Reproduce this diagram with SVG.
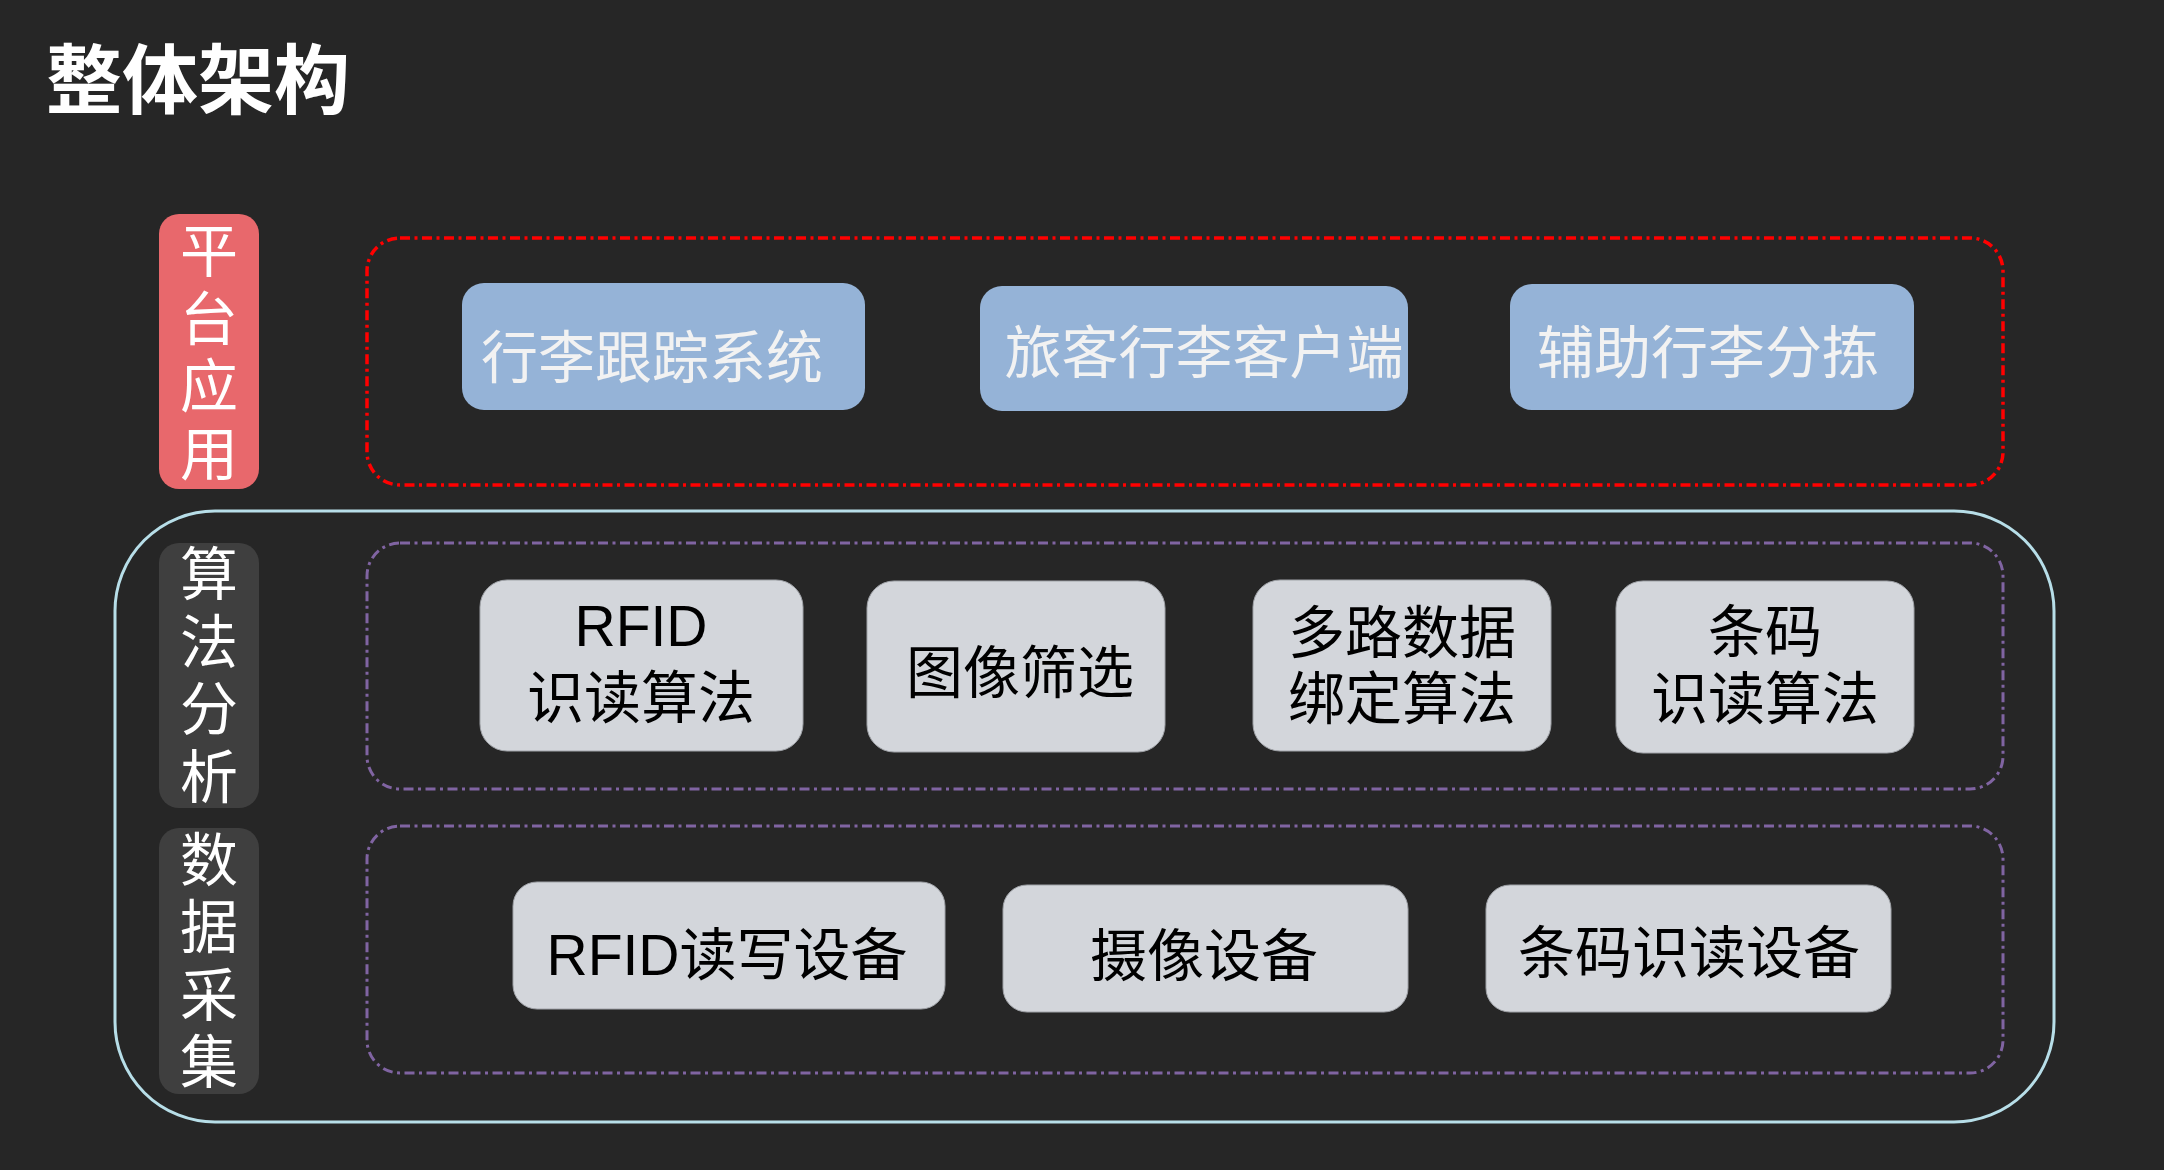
<svg xmlns="http://www.w3.org/2000/svg" width="2164" height="1170" viewBox="0 0 2164 1170">
<style>
  .cjk { font-family: "Liberation Sans", "Noto Sans CJK SC", sans-serif; }
  .title { font-family: "Noto Sans CJK SC", sans-serif; font-weight: 700; font-size: 76px; fill: #FFFFFF; }
  .lbl { font-family: "Noto Sans CJK SC", sans-serif; font-size: 58px; fill: #FFFFFF; text-anchor: middle; }
  .blue { fill: #95B3D7; }
  .bluet { font-size: 57px; fill: #F2F2F2; text-anchor: middle; }
  .gray { fill: #D3D6DB; stroke: #A0A3A8; stroke-width: 1; }
  .grayt { font-size: 57px; fill: #000000; text-anchor: middle; }
  .reddash { fill: none; stroke: #FF0000; stroke-width: 3.5; stroke-dasharray: 10 4.5 3 4.5; }
  .purpdash { fill: none; stroke: #8064A2; stroke-width: 3; stroke-dasharray: 10 4.5 3 4.5; }
</style>
<rect x="0" y="0" width="2164" height="1170" fill="#262626"/>
<text class="title" x="46" y="108">整体架构</text>

<g id="outer-frame">
  <rect x="115" y="511" width="1939" height="611" rx="100" ry="100" fill="none" stroke="#B7DEE8" stroke-width="3"/>
</g>

<g id="group-platform">
  <rect class="reddash" x="367" y="238" width="1636" height="247" rx="33" ry="33"/>
</g>
<g id="group-algorithm">
  <rect class="purpdash" x="367" y="543" width="1636" height="246" rx="33" ry="33"/>
</g>
<g id="group-data">
  <rect class="purpdash" x="367" y="826" width="1636" height="247" rx="33" ry="33"/>
</g>

<g id="label-platform">
  <rect x="159" y="214" width="100" height="275" rx="20" ry="20" fill="#E8686C"/>
  <text class="lbl" x="209" y="272">平</text>
  <text class="lbl" x="209" y="340">台</text>
  <text class="lbl" x="209" y="407">应</text>
  <text class="lbl" x="209" y="475">用</text>
</g>
<g id="label-algorithm">
  <rect x="159" y="543" width="100" height="265" rx="20" ry="20" fill="#3F3F3F"/>
  <text class="lbl" x="209" y="595">算</text>
  <text class="lbl" x="209" y="663">法</text>
  <text class="lbl" x="209" y="730">分</text>
  <text class="lbl" x="209" y="798">析</text>
</g>
<g id="label-data">
  <rect x="159" y="828" width="100" height="266" rx="20" ry="20" fill="#3F3F3F"/>
  <text class="lbl" x="209" y="881">数</text>
  <text class="lbl" x="209" y="948">据</text>
  <text class="lbl" x="209" y="1016">采</text>
  <text class="lbl" x="209" y="1083">集</text>
</g>

<g id="node-tracking">
  <rect class="blue" x="462" y="283" width="403" height="127" rx="22" ry="22"/>
  <text class="cjk bluet" x="652" y="378">行李跟踪系统</text>
</g>
<g id="node-client">
  <rect class="blue" x="980" y="286" width="428" height="125" rx="22" ry="22"/>
  <text class="cjk bluet" x="1204" y="373">旅客行李客户端</text>
</g>
<g id="node-sorting">
  <rect class="blue" x="1510" y="284" width="404" height="126" rx="22" ry="22"/>
  <text class="cjk bluet" x="1708" y="373">辅助行李分拣</text>
</g>

<g id="node-rfid-algo">
  <rect class="gray" x="480" y="580" width="323" height="171" rx="27" ry="27"/>
  <text class="cjk grayt" x="641" y="646">RFID</text>
  <text class="cjk grayt" x="641" y="718">识读算法</text>
</g>
<g id="node-image">
  <rect class="gray" x="867" y="581" width="298" height="171" rx="27" ry="27"/>
  <text class="cjk grayt" x="1020" y="693">图像筛选</text>
</g>
<g id="node-binding">
  <rect class="gray" x="1253" y="580" width="298" height="171" rx="27" ry="27"/>
  <text class="cjk grayt" x="1402" y="653">多路数据</text>
  <text class="cjk grayt" x="1402" y="719">绑定算法</text>
</g>
<g id="node-barcode-algo">
  <rect class="gray" x="1616" y="581" width="298" height="172" rx="27" ry="27"/>
  <text class="cjk grayt" x="1765" y="652">条码</text>
  <text class="cjk grayt" x="1765" y="719">识读算法</text>
</g>

<g id="node-rfid-device">
  <rect class="gray" x="513" y="882" width="432" height="127" rx="24" ry="24"/>
  <text class="cjk grayt" x="727" y="975">RFID读写设备</text>
</g>
<g id="node-camera">
  <rect class="gray" x="1003" y="885" width="405" height="127" rx="24" ry="24"/>
  <text class="cjk grayt" x="1204" y="976">摄像设备</text>
</g>
<g id="node-barcode-device">
  <rect class="gray" x="1486" y="885" width="405" height="127" rx="24" ry="24"/>
  <text class="cjk grayt" x="1689" y="973">条码识读设备</text>
</g>

<g id="connectors"></g>
</svg>
